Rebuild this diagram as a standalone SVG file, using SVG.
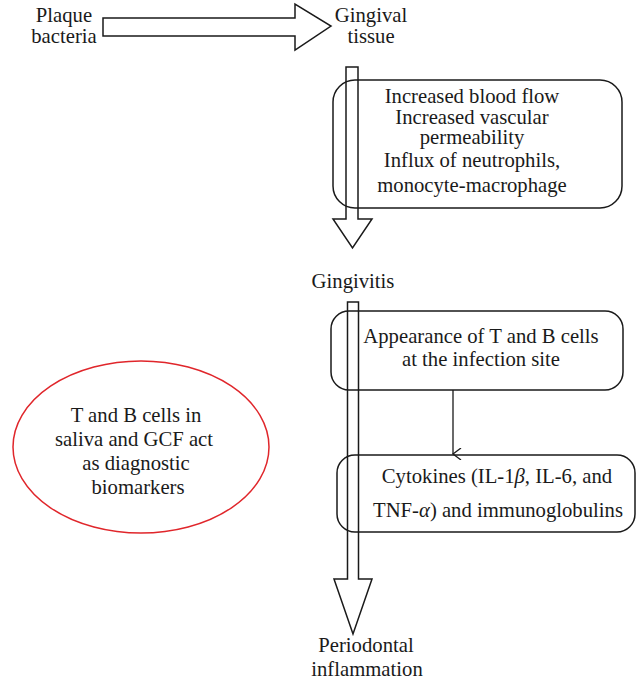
<svg xmlns="http://www.w3.org/2000/svg" width="638" height="680" viewBox="0 0 638 680">
<defs>
<style>
text{font-family:"Liberation Serif","Times New Roman","DejaVu Serif",serif;font-size:20.7px;fill:#1a1a1a;text-anchor:middle}
.box{fill:none;stroke:#1a1a1a;stroke-width:1.5}
.arr{fill:none;stroke:#1a1a1a;stroke-width:1.5;stroke-linejoin:miter}
.ell{fill:none;stroke:#e0262b;stroke-width:1.5}
</style>
<marker id="vhead" markerWidth="12" markerHeight="12" refX="6" refY="10" orient="auto" markerUnits="userSpaceOnUse" viewBox="0 0 12 12">
<path d="M0,2 L6,10 L12,2" fill="none" stroke="#1a1a1a" stroke-width="1.3"/>
</marker>
</defs>
<rect width="638" height="680" fill="#fff"/>
<g id="plaque"><text x="64" y="22">Plaque</text><text x="64" y="43">bacteria</text></g>
<g id="gingival-tissue"><text x="371" y="22">Gingival</text><text x="371" y="43">tissue</text></g>
<g id="box-inflammation">
<rect class="box" x="333" y="80" width="289" height="128" rx="22"/>
<text x="472" y="103">Increased blood flow</text>
<text x="472" y="124">Increased vascular</text>
<text x="472" y="144">permeability</text>
<text x="472" y="167">Influx of neutrophils,</text>
<text x="472" y="192">monocyte-macrophage</text>
</g>
<g id="gingivitis"><text x="353" y="288">Gingivitis</text></g>
<g id="box-tb">
<rect class="box" x="331" y="311" width="292" height="79" rx="18"/>
<text x="481" y="343">Appearance of T and B cells</text>
<text x="481" y="366">at the infection site</text>
</g>
<g id="box-cytokines">
<rect class="box" x="337" y="455" width="298" height="77" rx="18"/>
<text x="497" y="483">Cytokines (IL-1<tspan font-style="italic">β</tspan>, IL-6, and</text>
<text x="498" y="517">TNF-<tspan font-style="italic">α</tspan>) and immunoglobulins</text>
</g>
<g id="biomarkers">
<ellipse class="ell" cx="141" cy="447" rx="128" ry="86"/>
<text x="136" y="422">T and B cells in</text>
<text x="134" y="446">saliva and GCF act</text>
<text x="136" y="470">as diagnostic</text>
<text x="138" y="494">biomarkers</text>
</g>
<g id="periodontal"><text x="366" y="652">Periodontal</text><text x="367" y="676">inflammation</text></g>
<g id="connectors">
<path class="arr" d="M103,18 H295 V4 L331,26 L295,50 V36 H103 Z"/>
<path class="arr" d="M346,67 H358 V219 H372 L352.5,248 L333,219 H346 Z"/>
<path class="arr" d="M347.5,302 H358.5 V579 H372 L353,634 L334,579 H347.5 Z"/>
<line x1="453" y1="390" x2="453" y2="454" stroke="#1a1a1a" stroke-width="1.3" marker-end="url(#vhead)"/>
</g>
</svg>
